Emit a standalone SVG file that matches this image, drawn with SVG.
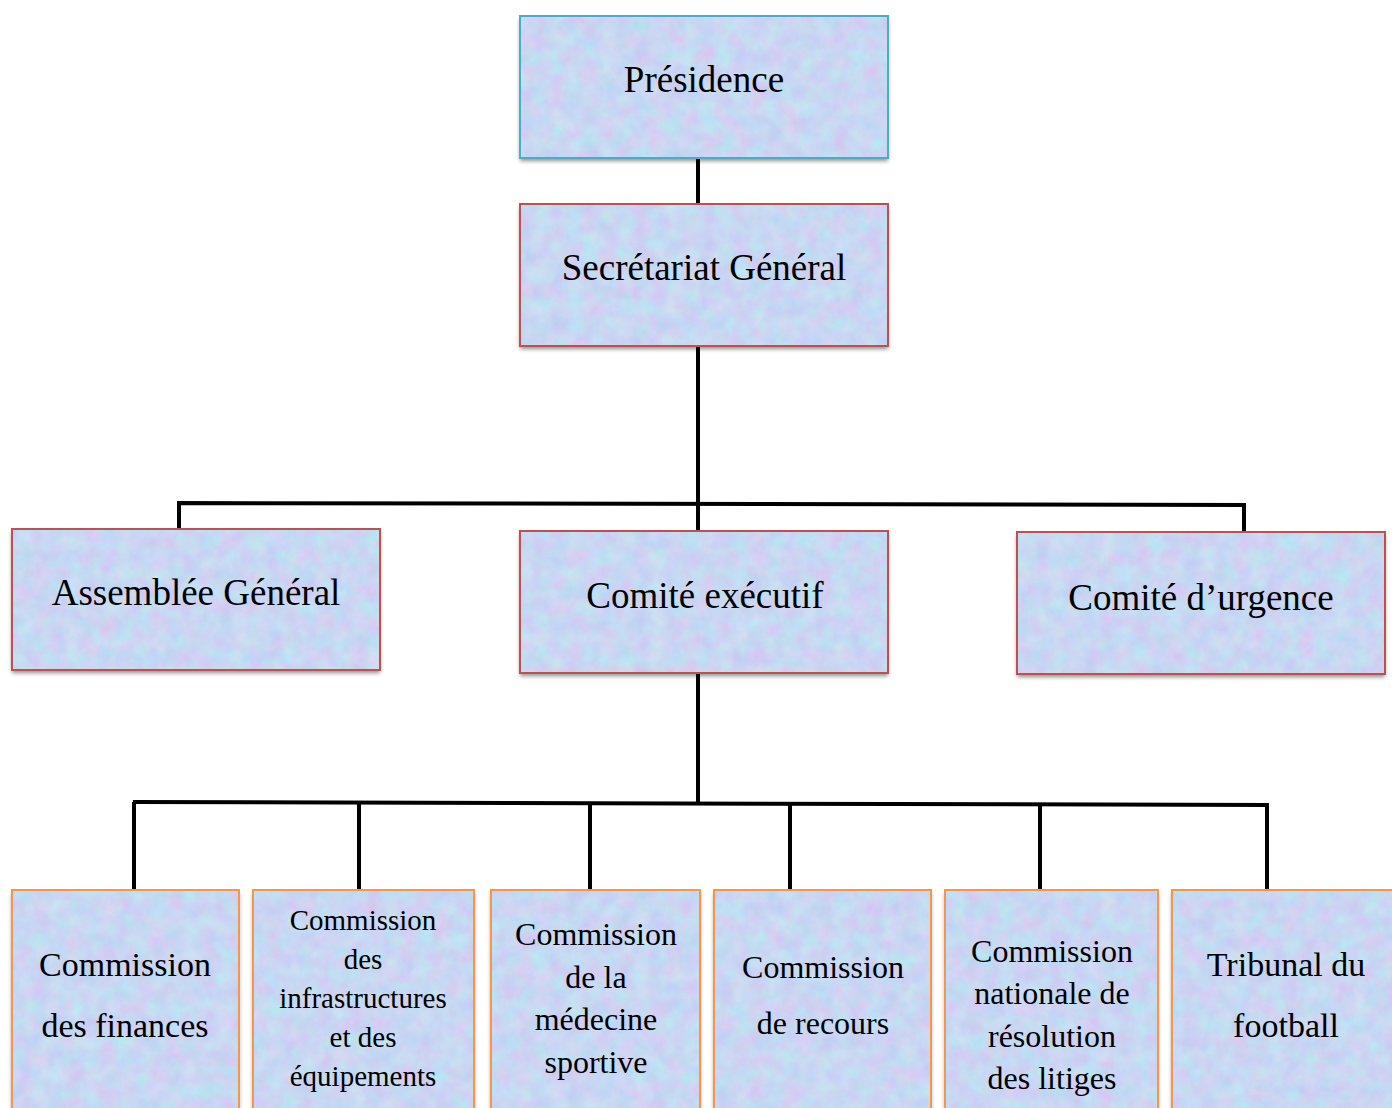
<svg xmlns="http://www.w3.org/2000/svg" width="1392" height="1108" viewBox="0 0 1392 1108">
<defs>
  <filter id="tex" x="0" y="0" width="100%" height="100%" color-interpolation-filters="sRGB">
    <feTurbulence type="fractalNoise" baseFrequency="0.06" numOctaves="4" seed="7" result="n"/>
    <feColorMatrix in="n" type="matrix" values="0.17 -0.07 0 0 0.735  -0.035 0.16 0 0 0.78  0 0 0.05 0 0.925  0 0 0 0 1" result="c"/>
    <feComposite in="c" in2="SourceGraphic" operator="in"/>
  </filter>
  <filter id="shadow" x="-5%" y="-5%" width="110%" height="115%">
    <feGaussianBlur in="SourceAlpha" stdDeviation="2"/>
    <feOffset dx="0" dy="3" result="b"/>
    <feComponentTransfer><feFuncA type="linear" slope="0.45"/></feComponentTransfer>
  </filter>
</defs>
<style>
  .shd { fill: #000; filter: url(#shadow); }
  .fill { fill: #c8d2f2; filter: url(#tex); }
  .bc { fill: none; stroke: #4bacc6; stroke-width: 2; }
  .br { fill: none; stroke: #c0504d; stroke-width: 2; }
  .bo { fill: none; stroke: #f79646; stroke-width: 2; }
  text { font-family: "Liberation Serif", "Times New Roman", serif; fill: #000; text-anchor: middle; }
  .t37 { font-size: 37px; }
  .t34 { font-size: 34px; }
  .t32 { font-size: 32px; }
  .t29 { font-size: 29px; }
  .conn { stroke: #000; stroke-width: 4; fill: none; stroke-linecap: butt; }
</style>
<rect width="1392" height="1108" fill="#ffffff"/>

<g id="connectors">
  <line class="conn" x1="698" y1="158" x2="698" y2="204"/>
  <line class="conn" x1="698" y1="346" x2="698" y2="531"/>
  <polyline class="conn" points="179,529 179,503 1244,505 1244,532"/>
  <line class="conn" x1="698" y1="673" x2="698" y2="802"/>
  <line class="conn" x1="133" y1="802" x2="1269" y2="805"/>
  <line class="conn" x1="134" y1="802" x2="134" y2="890"/>
  <line class="conn" x1="359" y1="802" x2="359" y2="890"/>
  <line class="conn" x1="590" y1="803" x2="590" y2="890"/>
  <line class="conn" x1="790" y1="803" x2="790" y2="890"/>
  <line class="conn" x1="1040" y1="804" x2="1040" y2="890"/>
  <line class="conn" x1="1267" y1="805" x2="1267" y2="890"/>
</g>

<g id="presidence">
  <rect class="shd" x="520" y="16" width="368" height="142"/>
  <rect class="fill" x="520" y="16" width="368" height="142"/>
  <rect class="bc" x="520" y="16" width="368" height="142"/>
  <text class="t37" x="704" y="92">Présidence</text>
</g>

<g id="secretariat">
  <rect class="shd" x="520" y="204" width="368" height="142"/>
  <rect class="fill" x="520" y="204" width="368" height="142"/>
  <rect class="br" x="520" y="204" width="368" height="142"/>
  <text class="t37" x="704" y="280">Secrétariat Général</text>
</g>

<g id="assemblee">
  <rect class="shd" x="12" y="529" width="368" height="141"/>
  <rect class="fill" x="12" y="529" width="368" height="141"/>
  <rect class="br" x="12" y="529" width="368" height="141"/>
  <text class="t37" x="196" y="605">Assemblée Général</text>
</g>

<g id="comite-executif">
  <rect class="shd" x="520" y="531" width="368" height="142"/>
  <rect class="fill" x="520" y="531" width="368" height="142"/>
  <rect class="br" x="520" y="531" width="368" height="142"/>
  <text class="t37" x="705" y="608">Comité exécutif</text>
</g>

<g id="comite-urgence">
  <rect class="shd" x="1017" y="532" width="368" height="142"/>
  <rect class="fill" x="1017" y="532" width="368" height="142"/>
  <rect class="br" x="1017" y="532" width="368" height="142"/>
  <text class="t37" x="1201" y="610">Comité d’urgence</text>
</g>

<g id="commission-finances">
  <rect class="shd" x="12" y="890" width="227" height="230"/>
  <rect class="fill" x="12" y="890" width="227" height="230"/>
  <rect class="bo" x="12" y="890" width="227" height="230"/>
  <text class="t34" x="125" y="976">Commission</text>
  <text class="t34" x="125" y="1037">des finances</text>
</g>

<g id="commission-infrastructures">
  <rect class="shd" x="253" y="890" width="221" height="230"/>
  <rect class="fill" x="253" y="890" width="221" height="230"/>
  <rect class="bo" x="253" y="890" width="221" height="230"/>
  <text class="t29" x="363" y="930">Commission</text>
  <text class="t29" x="363" y="969">des</text>
  <text class="t29" x="363" y="1008">infrastructures</text>
  <text class="t29" x="363" y="1047">et des</text>
  <text class="t29" x="363" y="1086">équipements</text>
</g>

<g id="commission-medecine">
  <rect class="shd" x="491" y="890" width="209" height="230"/>
  <rect class="fill" x="491" y="890" width="209" height="230"/>
  <rect class="bo" x="491" y="890" width="209" height="230"/>
  <text class="t32" x="596" y="945">Commission</text>
  <text class="t32" x="596" y="988">de la</text>
  <text class="t32" x="596" y="1030">médecine</text>
  <text class="t32" x="596" y="1073">sportive</text>
</g>

<g id="commission-recours">
  <rect class="shd" x="714" y="890" width="217" height="230"/>
  <rect class="fill" x="714" y="890" width="217" height="230"/>
  <rect class="bo" x="714" y="890" width="217" height="230"/>
  <text class="t32" x="823" y="978">Commission</text>
  <text class="t32" x="823" y="1034">de recours</text>
</g>

<g id="commission-litiges">
  <rect class="shd" x="945" y="890" width="213" height="230"/>
  <rect class="fill" x="945" y="890" width="213" height="230"/>
  <rect class="bo" x="945" y="890" width="213" height="230"/>
  <text class="t32" x="1052" y="962">Commission</text>
  <text class="t32" x="1052" y="1004">nationale de</text>
  <text class="t32" x="1052" y="1047">résolution</text>
  <text class="t32" x="1052" y="1089">des litiges</text>
</g>

<g id="tribunal-football">
  <rect class="shd" x="1172" y="890" width="226" height="230"/>
  <rect class="fill" x="1172" y="890" width="226" height="230"/>
  <rect class="bo" x="1172" y="890" width="226" height="230"/>
  <text class="t34" x="1286" y="976">Tribunal du</text>
  <text class="t34" x="1286" y="1037">football</text>
</g>
</svg>
